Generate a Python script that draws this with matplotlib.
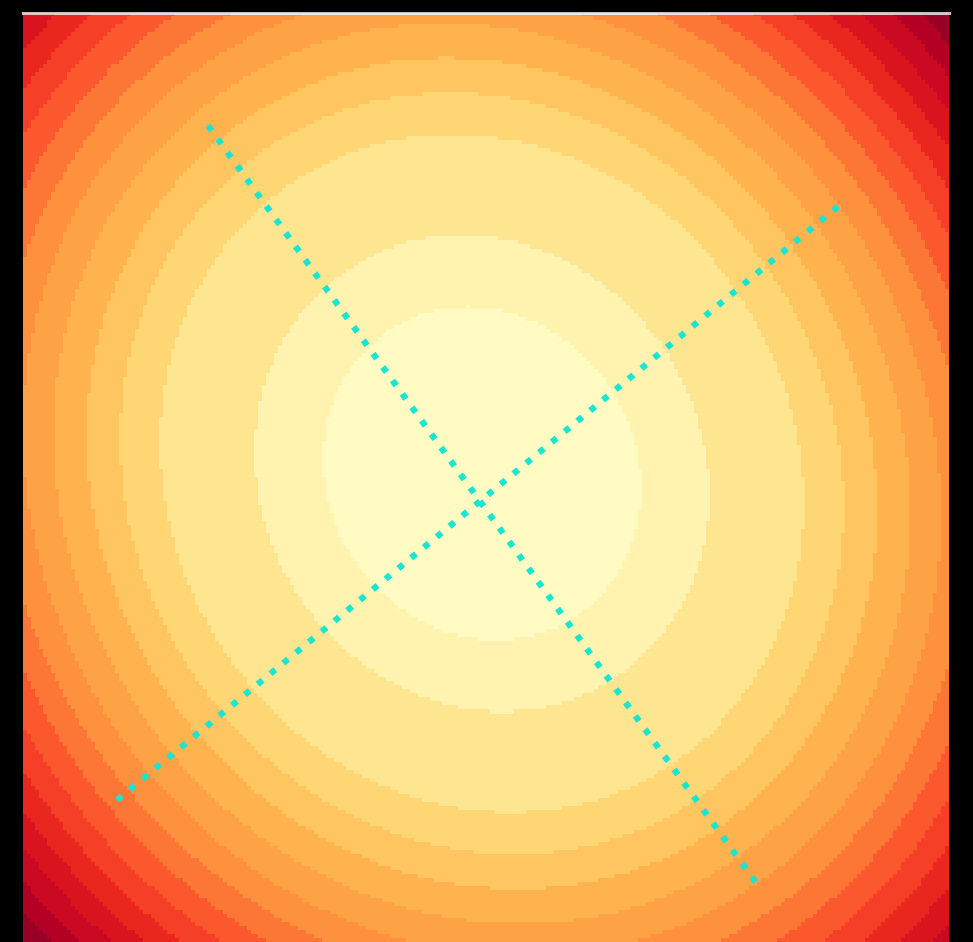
import numpy as np
import matplotlib.pyplot as plt

# Elliptical "bowl" field shown as a banded heat map, with its two
# principal directions drawn as dotted guide lines.

# grid resolution and data extent
nx, ny = 232, 232
width, height = 926, 929

# centre of the field and quadratic-form coefficients (x right, y down)
centre_x, centre_y = 459, 461
coef_xx, coef_xy, coef_yy = 1.0, -0.085, 0.907

# band edges of the squared distance, in thousands
band_edges = [0, 25, 51, 103, 130, 155, 182, 209, 235, 261, 287, 313,
              339, 365, 392, 418, 444, 470, 496]
colour_max = 455

# guide lines along the principal directions
axis1_x = [185, 734]
axis1_y = [113, 871]
axis2_x = [94, 815]
axis2_y = [787, 194]

# build the field on cell centres
xs = (np.arange(nx) + 0.5) * width / nx
ys = (np.arange(ny) + 0.5) * height / ny
X, Y = np.meshgrid(xs, ys)
dx = X - centre_x
dy = Y - centre_y
q = (coef_xx * dx**2 + 2 * coef_xy * dx * dy + coef_yy * dy**2) / 1000.0

edges = np.array(band_edges, dtype=float)
q = np.clip(q, edges[0], edges[-1] - 1e-6)
band = np.digitize(q, edges) - 1
mids = (edges[:-1] + edges[1:]) / 2
banded = mids[band]

fig = plt.figure(figsize=(9.73, 9.42), dpi=100, facecolor='black')
ax = fig.add_axes([23 / 973, 0, 926 / 973, 929.5 / 942])
ax.set_facecolor('black')

ax.imshow(banded, cmap='YlOrRd', vmin=0, vmax=colour_max,
          extent=[0, width, height, 0], interpolation='nearest', aspect='auto')

ax.plot(axis1_x, axis1_y, ls=':', color='#19e5d0', lw=4.5)
ax.plot(axis2_x, axis2_y, ls=':', color='#19e5d0', lw=4.5)

ax.set_xlim(0, width)
ax.set_ylim(height, 0)
ax.set_xticks([])
ax.set_yticks([])
for side in ['left', 'right', 'bottom']:
    ax.spines[side].set_visible(False)
ax.spines['top'].set_color('white')
ax.spines['top'].set_alpha(0.75)
ax.spines['top'].set_linewidth(2.2)

fig.savefig('out.png', dpi=100, facecolor='black')
